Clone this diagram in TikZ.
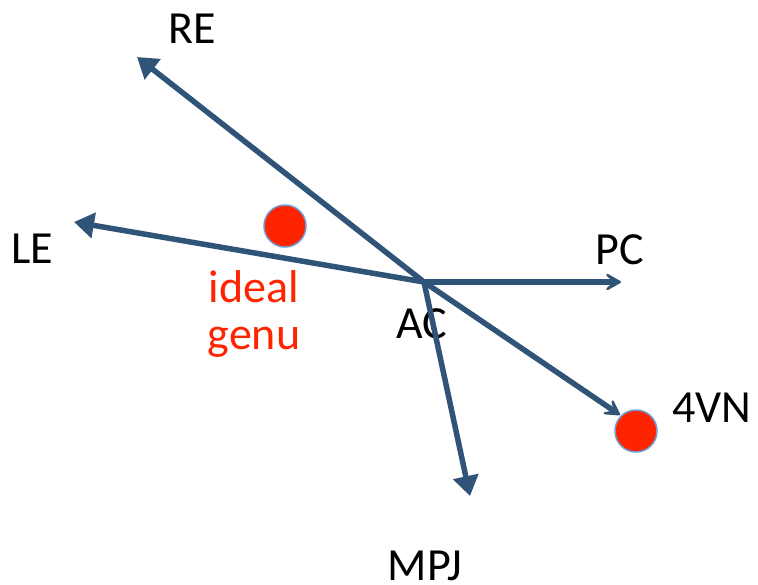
\documentclass[tikz,border=0pt]{standalone}
\usepackage{fontspec}
\setmainfont{Carlito}
\usetikzlibrary{arrows.meta}
\definecolor{lineblue}{HTML}{2F5478}
\definecolor{dotred}{HTML}{FF2400}
\definecolor{dotrim}{HTML}{6F9BD2}
\begin{document}
\begin{tikzpicture}[x=1pt,y=-1pt,
  conn/.style={draw=lineblue, line width=5.5pt},
  tri/.style={-{Triangle[length=20pt,width=25pt]}},
  barb/.style={-{Stealth[length=22pt,width=25pt,inset=13pt,round]}},
  lbl/.style={font=\fontsize{46}{50}\selectfont, text=black, inner sep=0pt},
  redlbl/.style={font=\fontsize{46}{47}\selectfont, text=dotred, inner sep=0pt, align=center},
  dot/.style={circle, fill=dotred, draw=dotrim, line width=1.5pt, minimum size=42pt, inner sep=0pt}]
\useasboundingbox (0,0) rectangle (758,584);
\coordinate (C) at (424,282);
\coordinate (tRE) at (137,57);
\coordinate (tLE) at (74,222);
\coordinate (tPC) at (621,282);
\coordinate (tVN) at (620,415);
\coordinate (tMPJ) at (470,496);
\node[lbl] (RE) at (192,29) {RE};
\node[lbl] (LE) at (32,249) {LE};
\node[lbl] (PC) at (620,250) {PC};
\node[lbl] (VN) at (712,408) {4VN};
\node[lbl] (MPJ) at (425,566) {MPJ};
\node[lbl] (AC) at (422,324) {AC};
\node[redlbl] (ideal) at (254,314) {ideal\\genu};
\draw[conn,tri] (C) -- (tRE);
\draw[conn,tri] (C) -- (tLE);
\draw[conn,tri] (C) -- (tMPJ);
\draw[conn,barb] (C) -- (tPC);
\draw[conn,barb] (C) -- (tVN);
\node[dot] (d1) at (285,226) {};
\node[dot] (d2) at (636,431) {};
\end{tikzpicture}
\end{document}
